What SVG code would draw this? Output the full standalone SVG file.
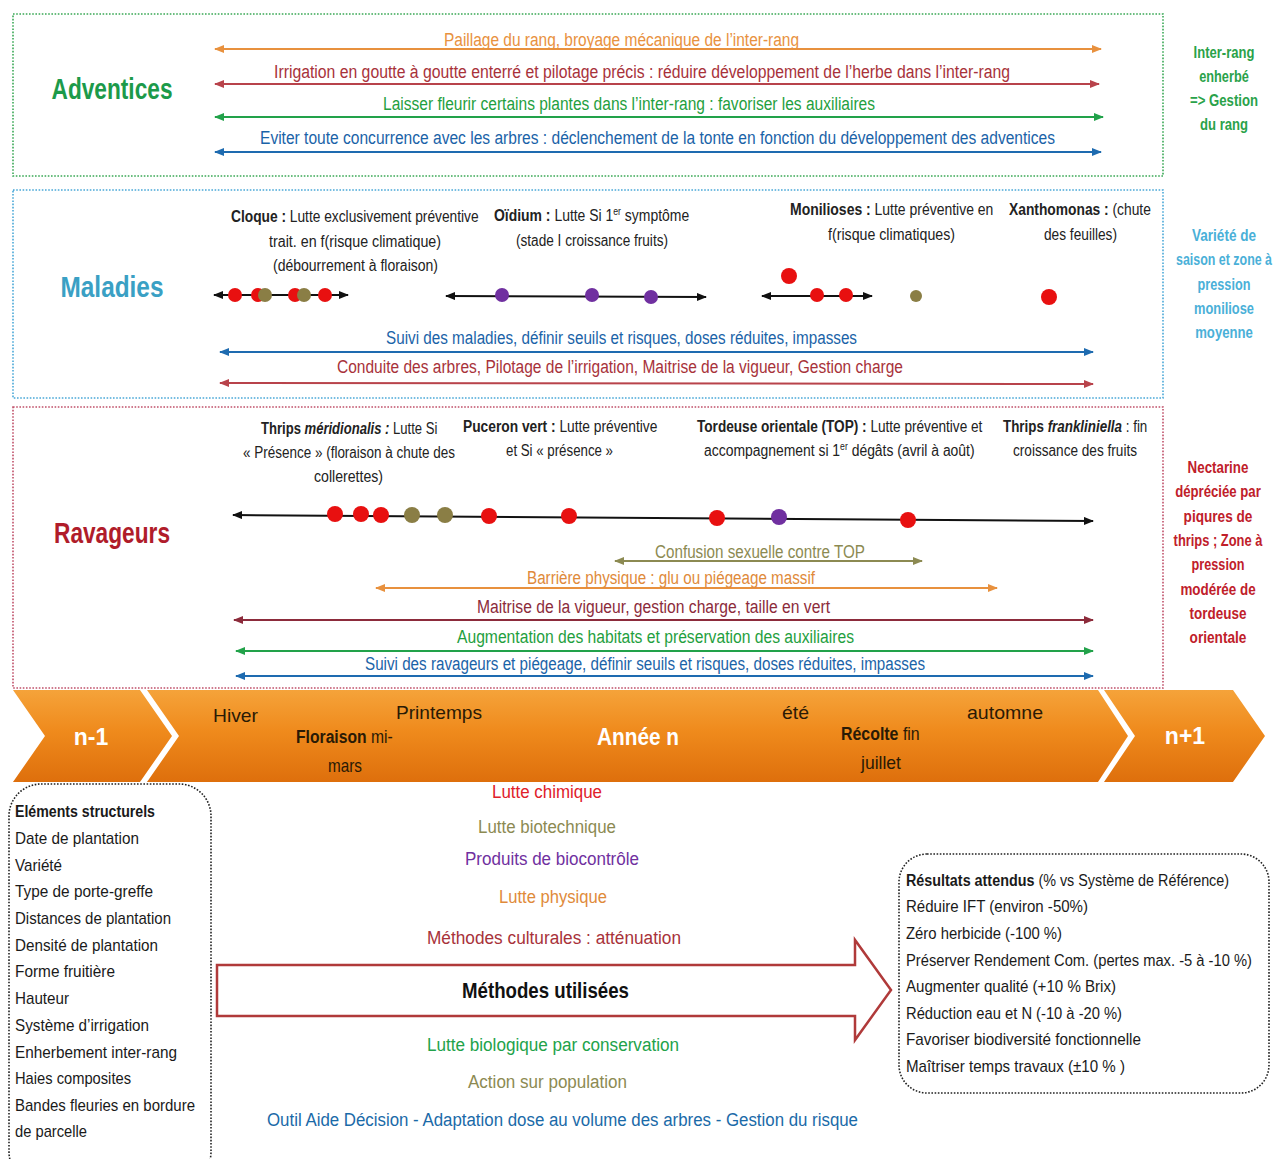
<svg xmlns="http://www.w3.org/2000/svg" width="1275" height="1159" viewBox="0 0 1275 1159">
<style>
text{font-family:"Liberation Sans Narrow","Liberation Sans",Arial,sans-serif;}
.b{font-weight:bold;}
.title{font-size:30px;font-weight:bold;text-anchor:middle;}
.lab{font-size:18px;}
.ann{font-size:16px;fill:#222;}
.side{font-size:16px;font-weight:bold;text-anchor:middle;}
.band{font-size:19px;fill:#2a1a05;}
.bandw{font-size:23px;fill:#fff;font-weight:bold;text-anchor:middle;}
.lst{font-size:17px;fill:#1a1a1a;}
.mid{font-size:18px;}
.box{fill:none;stroke-width:1.6;stroke-dasharray:1.6 1.6;}
.ln{fill:none;stroke-width:2;}
</style>
<defs>
<marker id="mO" viewBox="0 0 10 8" refX="9" refY="4" markerWidth="10" markerHeight="8" markerUnits="userSpaceOnUse" orient="auto-start-reverse"><path d="M0,0 L10,4 L0,8 z" fill="#e8913e"/></marker>
<marker id="mR" viewBox="0 0 10 8" refX="9" refY="4" markerWidth="10" markerHeight="8" markerUnits="userSpaceOnUse" orient="auto-start-reverse"><path d="M0,0 L10,4 L0,8 z" fill="#b8434b"/></marker>
<marker id="mG" viewBox="0 0 10 8" refX="9" refY="4" markerWidth="10" markerHeight="8" markerUnits="userSpaceOnUse" orient="auto-start-reverse"><path d="M0,0 L10,4 L0,8 z" fill="#22a24a"/></marker>
<marker id="mB" viewBox="0 0 10 8" refX="9" refY="4" markerWidth="10" markerHeight="8" markerUnits="userSpaceOnUse" orient="auto-start-reverse"><path d="M0,0 L10,4 L0,8 z" fill="#1e6bb0"/></marker>
<marker id="mK" viewBox="0 0 10 8" refX="9" refY="4" markerWidth="10" markerHeight="8" markerUnits="userSpaceOnUse" orient="auto-start-reverse"><path d="M0,0 L10,4 L0,8 z" fill="#111"/></marker>
<marker id="mV" viewBox="0 0 10 8" refX="9" refY="4" markerWidth="10" markerHeight="8" markerUnits="userSpaceOnUse" orient="auto-start-reverse"><path d="M0,0 L10,4 L0,8 z" fill="#8c8a52"/></marker>
<marker id="mD" viewBox="0 0 10 8" refX="9" refY="4" markerWidth="10" markerHeight="8" markerUnits="userSpaceOnUse" orient="auto-start-reverse"><path d="M0,0 L10,4 L0,8 z" fill="#8c2b3b"/></marker>
<linearGradient id="og" x1="0" y1="0" x2="0" y2="1">
<stop offset="0" stop-color="#f5a33a"/>
<stop offset="0.45" stop-color="#ef8a1c"/>
<stop offset="1" stop-color="#de6f0c"/>
</linearGradient>
</defs>

<g id="adventices">
<rect class="box" x="13" y="14" width="1150" height="162" stroke="#3aa856"/>
<text class="title" x="112" y="99" fill="#1c9a4a" textLength="121" lengthAdjust="spacingAndGlyphs">Adventices</text>
<g fill="#2aa24a">
<text class="side" transform="translate(1224,58) scale(0.8,1)" textLength="76" lengthAdjust="spacingAndGlyphs">Inter-rang</text>
<text class="side" transform="translate(1224,82) scale(0.8,1)" textLength="62" lengthAdjust="spacingAndGlyphs">enherbé</text>
<text class="side" transform="translate(1224,106) scale(0.8,1)" textLength="85" lengthAdjust="spacingAndGlyphs">=&gt; Gestion</text>
<text class="side" transform="translate(1224,130) scale(0.8,1)" textLength="60" lengthAdjust="spacingAndGlyphs">du rang</text>
</g>
</g>

<g id="maladies">
<rect class="box" x="13" y="190" width="1150" height="208" stroke="#4aa8d8"/>
<text class="title" x="112" y="297" fill="#3aa0c4" textLength="103" lengthAdjust="spacingAndGlyphs">Maladies</text>
<g fill="#4ab0d8">
<text class="side" transform="translate(1224,241) scale(0.8,1)" textLength="80" lengthAdjust="spacingAndGlyphs">Variété de</text>
<text class="side" transform="translate(1224,265) scale(0.8,1)" textLength="120" lengthAdjust="spacingAndGlyphs">saison et zone à</text>
<text class="side" transform="translate(1224,290) scale(0.8,1)" textLength="66" lengthAdjust="spacingAndGlyphs">pression</text>
<text class="side" transform="translate(1224,314) scale(0.8,1)" textLength="75" lengthAdjust="spacingAndGlyphs">moniliose</text>
<text class="side" transform="translate(1224,338) scale(0.8,1)" textLength="72" lengthAdjust="spacingAndGlyphs">moyenne</text>
</g>
<text class="ann" transform="translate(231,222) scale(0.82,1)" textLength="302" lengthAdjust="spacingAndGlyphs"><tspan class="b">Cloque :</tspan> Lutte exclusivement préventive</text>
<text class="ann" x="269" y="247" textLength="172" lengthAdjust="spacingAndGlyphs">trait. en f(risque climatique)</text>
<text class="ann" x="273" y="271" textLength="165" lengthAdjust="spacingAndGlyphs">(débourrement à floraison)</text>
<text class="ann" transform="translate(494,221) scale(0.82,1)" textLength="238" lengthAdjust="spacingAndGlyphs"><tspan class="b">Oïdium :</tspan> Lutte Si 1<tspan font-size="10" dy="-6">er</tspan><tspan dy="6"> symptôme</tspan></text>
<text class="ann" x="516" y="246" textLength="152" lengthAdjust="spacingAndGlyphs">(stade I croissance fruits)</text>
<text class="ann" transform="translate(790,215) scale(0.82,1)" textLength="248" lengthAdjust="spacingAndGlyphs"><tspan class="b">Monilioses :</tspan> Lutte préventive en</text>
<text class="ann" x="828" y="240" textLength="127" lengthAdjust="spacingAndGlyphs">f(risque climatiques)</text>
<text class="ann" transform="translate(1009,215) scale(0.82,1)" textLength="173" lengthAdjust="spacingAndGlyphs"><tspan class="b">Xanthomonas :</tspan> (chute</text>
<text class="ann" x="1044" y="240" textLength="73" lengthAdjust="spacingAndGlyphs">des feuilles)</text>
</g>

<g id="ravageurs">
<rect class="box" x="13" y="407" width="1150" height="281" stroke="#c0506a"/>
<text class="title" x="112" y="543" fill="#b01c2a" textLength="116" lengthAdjust="spacingAndGlyphs">Ravageurs</text>
<g fill="#c0202a">
<text class="side" transform="translate(1218,473) scale(0.8,1)" textLength="76" lengthAdjust="spacingAndGlyphs">Nectarine</text>
<text class="side" transform="translate(1218,497) scale(0.8,1)" textLength="107" lengthAdjust="spacingAndGlyphs">dépréciée par</text>
<text class="side" transform="translate(1218,522) scale(0.8,1)" textLength="86" lengthAdjust="spacingAndGlyphs">piqures de</text>
<text class="side" transform="translate(1218,546) scale(0.8,1)" textLength="111" lengthAdjust="spacingAndGlyphs">thrips ; Zone à</text>
<text class="side" transform="translate(1218,570) scale(0.8,1)" textLength="66" lengthAdjust="spacingAndGlyphs">pression</text>
<text class="side" transform="translate(1218,595) scale(0.8,1)" textLength="94" lengthAdjust="spacingAndGlyphs">modérée de</text>
<text class="side" transform="translate(1218,619) scale(0.8,1)" textLength="71" lengthAdjust="spacingAndGlyphs">tordeuse</text>
<text class="side" transform="translate(1218,643) scale(0.8,1)" textLength="71" lengthAdjust="spacingAndGlyphs">orientale</text>
</g>
<text class="ann" transform="translate(261,434) scale(0.82,1)" textLength="215" lengthAdjust="spacingAndGlyphs"><tspan class="b">Thrips </tspan><tspan class="b" font-style="italic">méridionalis :</tspan> Lutte Si</text>
<text class="ann" x="243" y="458" textLength="212" lengthAdjust="spacingAndGlyphs">« Présence » (floraison à chute des</text>
<text class="ann" x="314" y="482" textLength="69" lengthAdjust="spacingAndGlyphs">collerettes)</text>
<text class="ann" transform="translate(463,432) scale(0.82,1)" textLength="237" lengthAdjust="spacingAndGlyphs"><tspan class="b">Puceron vert :</tspan> Lutte  préventive</text>
<text class="ann" x="506" y="456" textLength="107" lengthAdjust="spacingAndGlyphs">et Si « présence »</text>
<text class="ann" transform="translate(697,432) scale(0.82,1)" textLength="348" lengthAdjust="spacingAndGlyphs"><tspan class="b">Tordeuse orientale (TOP) :</tspan> Lutte préventive et</text>
<text class="ann" transform="translate(704,456) scale(0.82,1)" textLength="330" lengthAdjust="spacingAndGlyphs">accompagnement si 1<tspan font-size="10" dy="-6">er</tspan><tspan dy="6"> dégâts  (avril à août)</tspan></text>
<text class="ann" transform="translate(1003,432) scale(0.82,1)" textLength="176" lengthAdjust="spacingAndGlyphs"><tspan class="b">Thrips </tspan><tspan class="b" font-style="italic">frankliniella</tspan> : fin</text>
<text class="ann" x="1013" y="456" textLength="124" lengthAdjust="spacingAndGlyphs">croissance des fruits</text>
</g>

<g id="connectors">
<line class="ln" x1="215" y1="49" x2="1101" y2="49" stroke="#e8913e" marker-start="url(#mO)" marker-end="url(#mO)"/>
<line class="ln" x1="215" y1="84" x2="1099" y2="84" stroke="#b8434b" marker-start="url(#mR)" marker-end="url(#mR)"/>
<line class="ln" x1="215" y1="117" x2="1103" y2="117" stroke="#22a24a" marker-start="url(#mG)" marker-end="url(#mG)"/>
<line class="ln" x1="215" y1="152" x2="1101" y2="152" stroke="#1e6bb0" marker-start="url(#mB)" marker-end="url(#mB)"/>
<line class="ln" x1="214" y1="295" x2="348" y2="295" stroke="#111" marker-start="url(#mK)" marker-end="url(#mK)"/>
<line class="ln" x1="446" y1="296" x2="706" y2="297" stroke="#111" marker-start="url(#mK)" marker-end="url(#mK)"/>
<line class="ln" x1="762" y1="296" x2="872" y2="296" stroke="#111" marker-start="url(#mK)" marker-end="url(#mK)"/>
<line class="ln" x1="220" y1="352" x2="1093" y2="352" stroke="#1e6bb0" marker-start="url(#mB)" marker-end="url(#mB)"/>
<line class="ln" x1="220" y1="383" x2="1093" y2="384" stroke="#b8434b" marker-start="url(#mR)" marker-end="url(#mR)"/>
<line class="ln" x1="233" y1="515" x2="1093" y2="521" stroke="#111" marker-start="url(#mK)" marker-end="url(#mK)"/>
<line class="ln" x1="615" y1="561" x2="922" y2="561" stroke="#8c8a52" marker-start="url(#mV)" marker-end="url(#mV)"/>
<line class="ln" x1="376" y1="588" x2="997" y2="588" stroke="#e8913e" marker-start="url(#mO)" marker-end="url(#mO)"/>
<line class="ln" x1="234" y1="620" x2="1093" y2="620" stroke="#8c2b3b" marker-start="url(#mD)" marker-end="url(#mD)"/>
<line class="ln" x1="236" y1="651" x2="1093" y2="651" stroke="#22a24a" marker-start="url(#mG)" marker-end="url(#mG)"/>
<line class="ln" x1="236" y1="676" x2="1093" y2="676" stroke="#1e6bb0" marker-start="url(#mB)" marker-end="url(#mB)"/>
</g>

<g id="arrow-labels" class="lab">
<text x="444" y="46" fill="#e8913e" textLength="355" lengthAdjust="spacingAndGlyphs">Paillage du rang, broyage mécanique de l’inter-rang</text>
<text x="274" y="78" fill="#a8323a" textLength="736" lengthAdjust="spacingAndGlyphs">Irrigation en goutte à goutte enterré et pilotage précis : réduire développement de l’herbe dans l’inter-rang</text>
<text x="383" y="110" fill="#1fa040" textLength="492" lengthAdjust="spacingAndGlyphs">Laisser fleurir certains plantes dans l’inter-rang : favoriser les auxiliaires</text>
<text x="260" y="144" fill="#1a63a8" textLength="795" lengthAdjust="spacingAndGlyphs">Eviter toute concurrence avec les arbres : déclenchement de la tonte en fonction  du développement des adventices</text>
<text x="386" y="344" fill="#1a63a8" textLength="471" lengthAdjust="spacingAndGlyphs">Suivi des maladies, définir seuils et risques, doses réduites, impasses</text>
<text x="337" y="373" fill="#a8323a" textLength="566" lengthAdjust="spacingAndGlyphs">Conduite des arbres, Pilotage de l’irrigation, Maitrise de la vigueur, Gestion charge</text>
<text x="655" y="558" fill="#8c8a52" textLength="210" lengthAdjust="spacingAndGlyphs">Confusion sexuelle contre TOP</text>
<text x="527" y="584" fill="#e08a3a" textLength="288" lengthAdjust="spacingAndGlyphs">Barrière physique : glu ou piégeage massif</text>
<text x="477" y="613" fill="#8c2b3b" textLength="353" lengthAdjust="spacingAndGlyphs">Maitrise de la vigueur, gestion charge, taille en vert</text>
<text x="457" y="643" fill="#1fa040" textLength="397" lengthAdjust="spacingAndGlyphs">Augmentation des habitats et préservation des auxiliaires</text>
<text x="365" y="670" fill="#1a63a8" textLength="560" lengthAdjust="spacingAndGlyphs">Suivi des ravageurs et piégeage, définir seuils et risques, doses réduites, impasses</text>
</g>

<g id="dots">
<circle cx="235" cy="295" r="7" fill="#e81010"/>
<circle cx="258" cy="295" r="7" fill="#e81010"/>
<circle cx="265" cy="295" r="7" fill="#8a7e45"/>
<circle cx="295" cy="295" r="7" fill="#e81010"/>
<circle cx="304" cy="295" r="7" fill="#8a7e45"/>
<circle cx="325" cy="295" r="7" fill="#e81010"/>
<circle cx="502" cy="295" r="7" fill="#7030a0"/>
<circle cx="592" cy="295" r="7" fill="#7030a0"/>
<circle cx="651" cy="297" r="7" fill="#7030a0"/>
<circle cx="789" cy="276" r="8" fill="#e81010"/>
<circle cx="817" cy="295" r="7" fill="#e81010"/>
<circle cx="846" cy="295" r="7" fill="#e81010"/>
<circle cx="916" cy="296" r="6" fill="#8a7e45"/>
<circle cx="1049" cy="297" r="8" fill="#e81010"/>
<circle cx="335" cy="514" r="8" fill="#e81010"/>
<circle cx="361" cy="514" r="8" fill="#e81010"/>
<circle cx="381" cy="515" r="8" fill="#e81010"/>
<circle cx="412" cy="515" r="8" fill="#8a7e45"/>
<circle cx="445" cy="515" r="8" fill="#8a7e45"/>
<circle cx="489" cy="516" r="8" fill="#e81010"/>
<circle cx="569" cy="516" r="8" fill="#e81010"/>
<circle cx="717" cy="518" r="8" fill="#e81010"/>
<circle cx="779" cy="517" r="8" fill="#7030a0"/>
<circle cx="908" cy="520" r="8" fill="#e81010"/>
</g>

<g id="band">
<polygon points="13,690 140,690 172,736 140,782 13,782 45,736" fill="url(#og)"/>
<polygon points="147,690 1098,690 1128,736 1098,782 147,782 179,736" fill="url(#og)"/>
<polygon points="1104,690 1233,690 1265,736 1233,782 1104,782 1135,736" fill="url(#og)"/>
<text class="bandw" x="91" y="745">n-1</text>
<text class="bandw" x="638" y="745" textLength="82" lengthAdjust="spacingAndGlyphs">Année n</text>
<text class="bandw" x="1185" y="744">n+1</text>
<text class="band" x="213" y="722" textLength="45" lengthAdjust="spacingAndGlyphs">Hiver</text>
<text class="band" x="396" y="719" textLength="86" lengthAdjust="spacingAndGlyphs">Printemps</text>
<text class="band" transform="translate(296,743) scale(0.82,1)" font-size="18" textLength="118" lengthAdjust="spacingAndGlyphs"><tspan class="b">Floraison</tspan> mi-</text>
<text class="band" x="328" y="772" font-size="18" textLength="34" lengthAdjust="spacingAndGlyphs">mars</text>
<text class="band" x="782" y="719" textLength="27" lengthAdjust="spacingAndGlyphs">été</text>
<text class="band" transform="translate(841,740) scale(0.82,1)" font-size="18" textLength="96" lengthAdjust="spacingAndGlyphs"><tspan class="b">Récolte</tspan> fin</text>
<text class="band" x="861" y="769" font-size="18" textLength="40" lengthAdjust="spacingAndGlyphs">juillet</text>
<text class="band" x="967" y="719" textLength="76" lengthAdjust="spacingAndGlyphs">automne</text>
</g>

<g id="elements">
<rect class="box" x="9" y="784" width="202" height="400" rx="32" ry="32" stroke="#222"/>
<text class="lst b" x="15" y="817" textLength="140" lengthAdjust="spacingAndGlyphs">Eléments structurels</text>
<text class="lst" x="15" y="844" textLength="124" lengthAdjust="spacingAndGlyphs">Date de plantation</text>
<text class="lst" x="15" y="871" textLength="47" lengthAdjust="spacingAndGlyphs">Variété</text>
<text class="lst" x="15" y="897" textLength="138" lengthAdjust="spacingAndGlyphs">Type de porte-greffe</text>
<text class="lst" x="15" y="924" textLength="156" lengthAdjust="spacingAndGlyphs">Distances de plantation</text>
<text class="lst" x="15" y="951" textLength="143" lengthAdjust="spacingAndGlyphs">Densité de plantation</text>
<text class="lst" x="15" y="977" textLength="100" lengthAdjust="spacingAndGlyphs">Forme fruitière</text>
<text class="lst" x="15" y="1004" textLength="54" lengthAdjust="spacingAndGlyphs">Hauteur</text>
<text class="lst" x="15" y="1031" textLength="134" lengthAdjust="spacingAndGlyphs">Système d’irrigation</text>
<text class="lst" x="15" y="1058" textLength="162" lengthAdjust="spacingAndGlyphs">Enherbement inter-rang</text>
<text class="lst" x="15" y="1084" textLength="116" lengthAdjust="spacingAndGlyphs">Haies composites</text>
<text class="lst" x="15" y="1111" textLength="180" lengthAdjust="spacingAndGlyphs">Bandes fleuries en bordure</text>
<text class="lst" x="15" y="1137" textLength="72" lengthAdjust="spacingAndGlyphs">de parcelle</text>
</g>

<g id="methodes">
<path d="M217,965 L855,965 L855,940 L891,990 L855,1040 L855,1016 L217,1016 Z" fill="#fff" stroke="#b03a3a" stroke-width="2.5"/>
<text class="mid" x="492" y="798" fill="#e0202a" textLength="110" lengthAdjust="spacingAndGlyphs">Lutte chimique</text>
<text class="mid" x="478" y="833" fill="#8c8a52" textLength="138" lengthAdjust="spacingAndGlyphs">Lutte biotechnique</text>
<text class="mid" x="465" y="865" fill="#7030a0" textLength="174" lengthAdjust="spacingAndGlyphs">Produits de biocontrôle</text>
<text class="mid" x="499" y="903" fill="#e08a3a" textLength="108" lengthAdjust="spacingAndGlyphs">Lutte physique</text>
<text class="mid" x="427" y="944" fill="#a8323a" textLength="254" lengthAdjust="spacingAndGlyphs">Méthodes culturales : atténuation</text>
<text x="462" y="998" font-size="22" font-weight="bold" fill="#111" textLength="167" lengthAdjust="spacingAndGlyphs">Méthodes utilisées</text>
<text class="mid" x="427" y="1051" fill="#22a24a" textLength="252" lengthAdjust="spacingAndGlyphs">Lutte biologique  par conservation</text>
<text class="mid" x="468" y="1088" fill="#8c8a52" textLength="159" lengthAdjust="spacingAndGlyphs">Action sur population</text>
<text class="mid" x="267" y="1126" fill="#1a6aa8" textLength="591" lengthAdjust="spacingAndGlyphs">Outil Aide Décision - Adaptation dose au volume des arbres - Gestion du risque</text>
</g>

<g id="resultats">
<rect class="box" x="899" y="854" width="370" height="239" rx="28" ry="28" stroke="#222"/>
<text class="lst" transform="translate(906,886) scale(0.82,1)" textLength="394" lengthAdjust="spacingAndGlyphs"><tspan class="b">Résultats attendus</tspan> (% vs Système de Référence)</text>
<text class="lst" x="906" y="912" textLength="182" lengthAdjust="spacingAndGlyphs">Réduire IFT  (environ -50%)</text>
<text class="lst" x="906" y="939" textLength="156" lengthAdjust="spacingAndGlyphs">Zéro herbicide (-100 %)</text>
<text class="lst" transform="translate(906,966) scale(0.85,1)" textLength="407" lengthAdjust="spacingAndGlyphs">Préserver Rendement Com. (pertes max. -5 à -10 %)</text>
<text class="lst" x="906" y="992" textLength="210" lengthAdjust="spacingAndGlyphs">Augmenter qualité (+10 % Brix)</text>
<text class="lst" x="906" y="1019" textLength="216" lengthAdjust="spacingAndGlyphs">Réduction eau et N (-10 à -20 %)</text>
<text class="lst" x="906" y="1045" textLength="235" lengthAdjust="spacingAndGlyphs">Favoriser biodiversité fonctionnelle</text>
<text class="lst" x="906" y="1072" textLength="219" lengthAdjust="spacingAndGlyphs">Maîtriser temps travaux (±10 % )</text>
</g>
</svg>
